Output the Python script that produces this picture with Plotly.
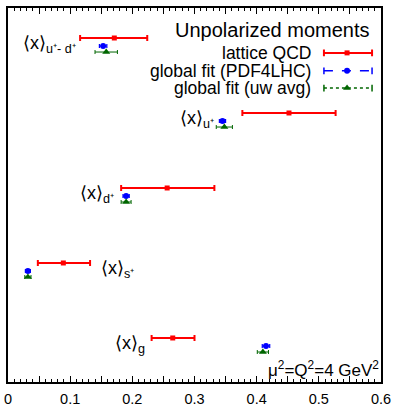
import plotly.graph_objects as go

# ---- data ----
rows = ["u+-d+", "u+", "d+", "s+", "g"]
row_pos = [0, 1, 2, 3, 4]

lattice_val = [0.171, 0.452, 0.256, 0.089, 0.265]
lattice_lo = [0.116, 0.377, 0.182, 0.048, 0.231]
lattice_hi = [0.224, 0.527, 0.332, 0.132, 0.300]

pdf4lhc_val = [0.153, 0.345, 0.190, 0.032, 0.415]
pdf4lhc_err = [0.006, 0.005, 0.005, 0.004, 0.006]

uwavg_val = [0.158, 0.348, 0.190, 0.032, 0.410]
uwavg_err = [0.018, 0.013, 0.008, 0.005, 0.009]

labels = ["⟨x⟩<sub>u⁺- d⁺</sub>", "⟨x⟩<sub>u⁺</sub>",
          "⟨x⟩<sub>d⁺</sub>", "⟨x⟩<sub>s⁺</sub>", "⟨x⟩<sub>g</sub>"]
label_x = [0.113, 0.334, 0.173, 0.147, 0.224]
label_anchor = ["right", "right", "right", "left", "right"]

x_ticks = [0, 0.05, 0.1, 0.15, 0.2, 0.25, 0.3, 0.35, 0.4, 0.45, 0.5, 0.55, 0.6]
x_ticktext = ["0", "", "0.1", "", "0.2", "", "0.3", "", "0.4", "", "0.5", "", "0.6"]

RED = "#ff0000"
BLUE = "#0000ff"
GREEN = "#006600"
FONT = "Liberation Sans, Arial, Helvetica, sans-serif"

off_blue = 0.107
off_green = 0.187

fig = go.Figure()

# lattice
fig.add_trace(go.Scatter(
    x=lattice_val, y=row_pos, mode="markers",
    marker=dict(symbol="square", size=5, color=RED),
    error_x=dict(type="data", symmetric=False,
                 array=[h - v for h, v in zip(lattice_hi, lattice_val)],
                 arrayminus=[v - l for v, l in zip(lattice_val, lattice_lo)],
                 color=RED, thickness=2, width=3),
    showlegend=False))

# PDF4LHC
fig.add_trace(go.Scatter(
    x=pdf4lhc_val, y=[r + off_blue for r in row_pos], mode="markers",
    marker=dict(symbol="circle", size=6, color=BLUE),
    error_x=dict(type="data", array=pdf4lhc_err, color=BLUE, thickness=1.2, width=2),
    showlegend=False))

# uw avg
fig.add_trace(go.Scatter(
    x=uwavg_val, y=[r + off_green for r in row_pos], mode="markers",
    marker=dict(symbol="triangle-up", size=7, color=GREEN),
    error_x=dict(type="data", array=uwavg_err, color=GREEN, thickness=1, width=2),
    showlegend=False))

# ---- manual legend (samples on hidden overlay axes) ----
leg_y = [0.880, 0.832, 0.786]
leg_x0, leg_xm, leg_x1 = 0.847, 0.909, 0.976
leg_styles = [
    dict(color=RED, dash="solid", symbol="square", size=5, w=2),
    dict(color=BLUE, dash="dash", symbol="circle", size=6, w=1.5),
    dict(color=GREEN, dash="dot", symbol="triangle-up", size=7, w=1.5),
]
for yy, st in zip(leg_y, leg_styles):
    fig.add_trace(go.Scatter(
        x=[leg_x0, leg_x1], y=[yy, yy], mode="lines",
        line=dict(color=st["color"], dash=st["dash"], width=st["w"]),
        xaxis="x2", yaxis="y2", showlegend=False, hoverinfo="skip"))
    fig.add_trace(go.Scatter(
        x=[leg_xm], y=[yy], mode="markers",
        marker=dict(symbol=st["symbol"], size=st["size"], color=st["color"]),
        xaxis="x2", yaxis="y2", showlegend=False, hoverinfo="skip"))
    for xx in (leg_x0, leg_x1):
        fig.add_shape(type="line", xref="x2", yref="y2", x0=xx, x1=xx,
                      y0=yy - 0.009, y1=yy + 0.009,
                      line=dict(color=st["color"], width=st["w"]))

leg_texts = ["lattice QCD", "global fit (PDF4LHC)", "global fit (uw avg)"]
for yy, t in zip(leg_y, leg_texts):
    fig.add_annotation(x=0.819, y=yy, xref="paper", yref="paper", text=t,
                       showarrow=False, xanchor="right", yanchor="middle",
                       font=dict(size=17.5, color="black", family=FONT))
fig.add_annotation(x=0.975, y=0.941, xref="paper", yref="paper",
                   text="Unpolarized moments", showarrow=False,
                   xanchor="right", yanchor="middle",
                   font=dict(size=20, color="black", family=FONT))

# row labels
for r, t, lx, anc in zip(row_pos, labels, label_x, label_anchor):
    fig.add_annotation(x=lx, y=r + 0.09, xref="x", yref="y", text=t,
                       showarrow=False, xanchor=anc, yanchor="middle",
                       font=dict(size=18, color="black", family=FONT))

fig.add_annotation(x=1.0, y=0.0, xref="paper", yref="paper",
                   text="μ<sup>2</sup>=Q<sup>2</sup>=4 GeV<sup>2</sup>",
                   showarrow=False, xanchor="right", yanchor="bottom",
                   font=dict(size=17, color="black", family=FONT))

fig.update_layout(
    width=396, height=407,
    margin=dict(l=8, r=15, t=8, b=25),
    paper_bgcolor="white", plot_bgcolor="white",
    font=dict(family=FONT, color="black"),
    showlegend=False,
    xaxis=dict(range=[0, 0.6], tickvals=x_ticks, ticktext=x_ticktext,
               ticks="inside", ticklen=6, tickwidth=1, tickcolor="black",
               minor=dict(dtick=0.01, ticks="inside", ticklen=3, tickcolor="black", tickwidth=1),
               showline=True, linecolor="black", linewidth=2, mirror=True,
               showgrid=False, zeroline=False, automargin=False,
               tickfont=dict(size=14.5, family=FONT), ticklabelstandoff=3),
    xaxis3=dict(range=[0, 0.6], overlaying="x", side="top", tickvals=x_ticks,
                showticklabels=False, ticks="inside", ticklen=6, tickwidth=1,
                tickcolor="black", automargin=False,
                minor=dict(dtick=0.01, ticks="inside", ticklen=3, tickcolor="black", tickwidth=1),
                showline=False, showgrid=False, zeroline=False, fixedrange=True),
    yaxis=dict(range=[4.587, -0.4], showticklabels=False, ticks="",
               showline=True, linecolor="black", linewidth=2, mirror=True,
               showgrid=False, zeroline=False, automargin=False),
    xaxis2=dict(range=[0, 1], overlaying="x", visible=False, fixedrange=True),
    yaxis2=dict(range=[0, 1], overlaying="y", visible=False, fixedrange=True),
)

# invisible trace to activate the top tick axis
fig.add_trace(go.Scatter(x=[None], y=[None], xaxis="x3", yaxis="y",
                         showlegend=False, hoverinfo="skip"))

fig.write_html("out.html")
